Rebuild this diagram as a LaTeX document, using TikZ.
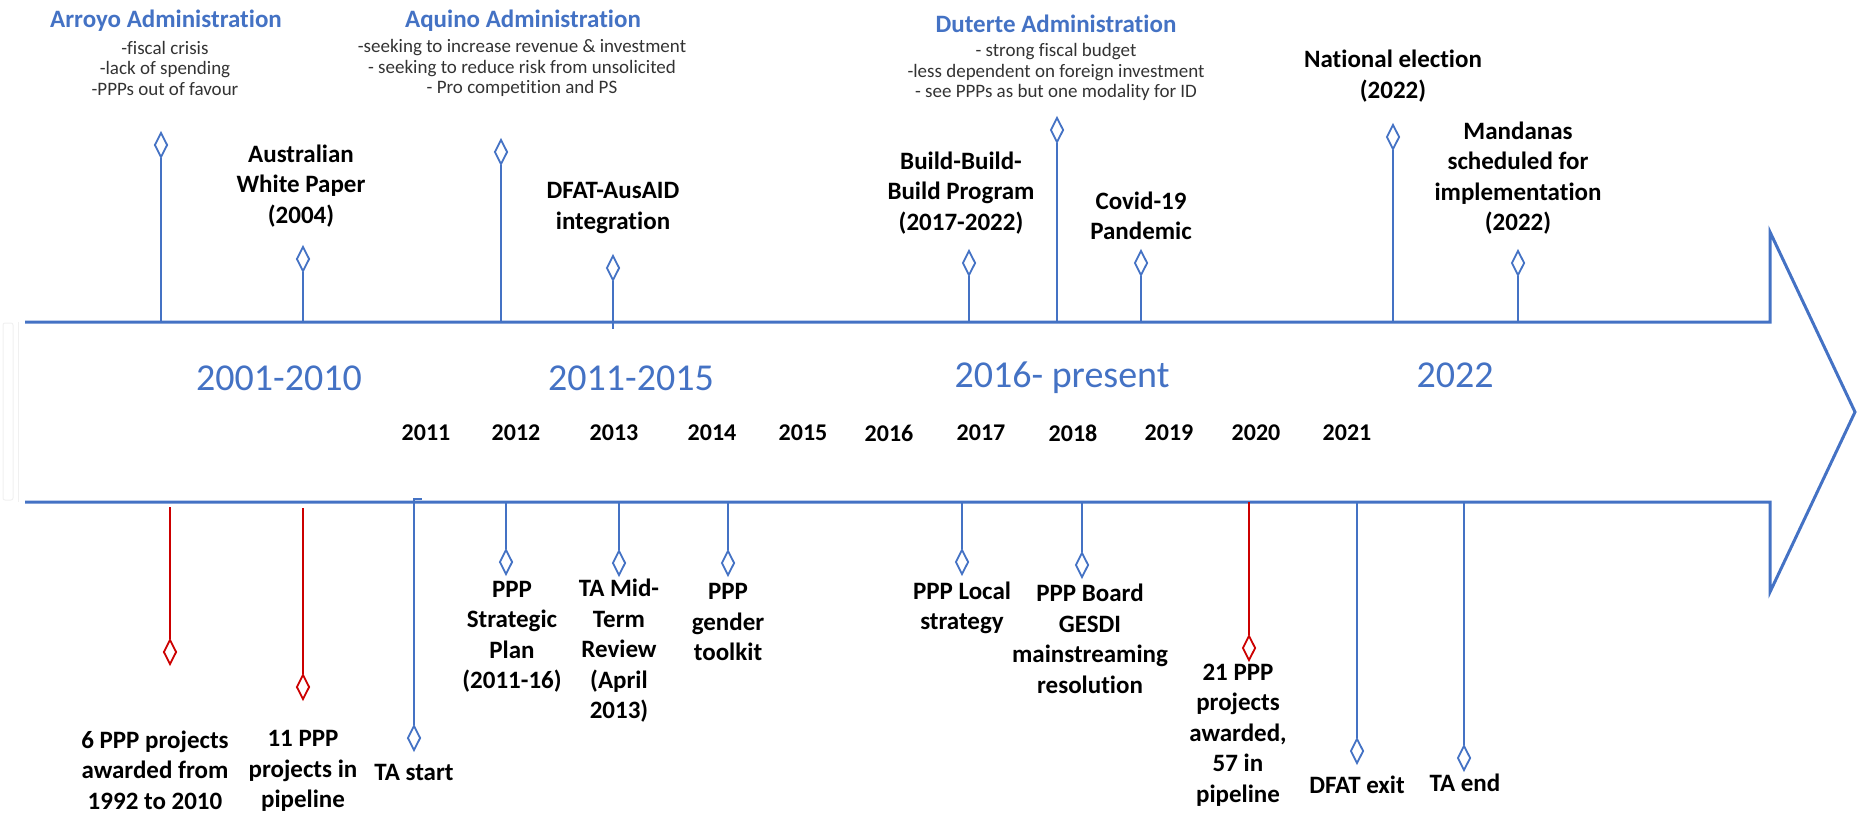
\documentclass[tikz,border=0pt]{standalone}
\usepackage{fontspec}
\setmainfont{Carlito}[Ligatures={NoCommon}]
\usetikzlibrary{shapes.geometric}
\definecolor{tlblue}{HTML}{4472C4}
\definecolor{tlred}{HTML}{CC0000}
\definecolor{subgray}{HTML}{333333}
\begin{document}
\begin{tikzpicture}[x=1pt,y=-1pt,
  admin/.style={text=tlblue, font=\fontsize{25}{30}\selectfont\bfseries, inner sep=0pt},
  subtxt/.style={text=subgray, font=\fontsize{19}{20.5}\selectfont, align=center, inner sep=0pt},
  ev/.style={font=\fontsize{25}{30.5}\selectfont\bfseries, align=center, inner sep=0pt},
  yr/.style={font=\fontsize{24}{28}\selectfont\bfseries, inner sep=0pt},
  era/.style={text=tlblue, font=\fontsize{38}{44}\selectfont, inner sep=0pt},
  stem/.style={draw=tlblue, line width=2.2pt},
  rstem/.style={draw=tlred, line width=1.8pt},
  dia/.style={diamond, draw=tlblue, line width=1.8pt, minimum width=13pt, minimum height=25pt, inner sep=0pt, fill=white},
  rdia/.style={dia, draw=tlred},
  band/.style={draw=tlblue, line width=3pt, line join=miter},
  faint/.style={draw=black!6, line width=1pt}
]
\useasboundingbox (0,0) rectangle (1857,813);

% faint left edge
\draw[faint] (18,322) -- (18,502);
\draw[faint, rounded corners=2pt] (3,323) rectangle (13,500);

% big arrow outline
\draw[band] (25,322) -- (1770,322) -- (1770,232) -- (1855,412) -- (1770,592) -- (1770,502) -- (25,502);

% ---------- top: administrations ----------
\node[admin] (tArroyo) at (166,21) {Arroyo Administration};
\node[subtxt] (sArroyo) at (165,68) {-fiscal crisis\\-lack of spending\\-PPPs out of favour};
\node[admin] (tAquino) at (523,21) {Aquino Administration};
\node[subtxt] (sAquino) at (522,68) {-seeking to increase revenue \& investment\\- seeking to reduce risk from unsolicited\\- Pro competition and PS};
\node[admin] (tDuterte) at (1056,24) {Duterte Administration};
\node[subtxt] (sDuterte) at (1056,72) {- strong fiscal budget\\-less dependent on foreign investment\\- see PPPs as but one modality for ID};

% ---------- top: events ----------
\node[dia] (dArroyo) at (161,145) {};
\coordinate (pArroyo) at (161,322);
\draw[stem] (dArroyo.south) -- (pArroyo);

\node[ev] (lAus) at (301,186) {Australian\\White Paper\\(2004)};
\node[dia] (dAus) at (303,259) {};
\coordinate (pAus) at (303,322);
\draw[stem] (dAus.south) -- (pAus);

\node[dia] (dAquino) at (501,152) {};
\coordinate (pAquino) at (501,322);
\draw[stem] (dAquino.south) -- (pAquino);

\node[ev] (lDFAT) at (613,208) {DFAT-AusAID\\integration};
\node[dia] (dDFAT) at (613,268) {};
\coordinate (pDFAT) at (613,329);
\draw[stem] (dDFAT.south) -- (pDFAT);

\node[ev] (lBBB) at (961,193) {Build-Build-\\Build Program\\(2017-2022)};
\node[dia] (dBBB) at (969,263) {};
\coordinate (pBBB) at (969,322);
\draw[stem] (dBBB.south) -- (pBBB);

\node[dia] (dDuterte) at (1057,130) {};
\coordinate (pDuterte) at (1057,322);
\draw[stem] (dDuterte.south) -- (pDuterte);

\node[ev] (lCovid) at (1141,216) {Covid-19\\Pandemic};
\node[dia] (dCovid) at (1141,263) {};
\coordinate (pCovid) at (1141,322);
\draw[stem] (dCovid.south) -- (pCovid);

\node[ev] (lElect) at (1393,76) {National election\\(2022)};
\node[dia] (dElect) at (1393,137) {};
\coordinate (pElect) at (1393,322);
\draw[stem] (dElect.south) -- (pElect);

\node[ev] (lMand) at (1518,178) {Mandanas\\scheduled for\\implementation\\(2022)};
\node[dia] (dMand) at (1518,263) {};
\coordinate (pMand) at (1518,322);
\draw[stem] (dMand.south) -- (pMand);

% ---------- middle band ----------
\node[era] (era1) at (279,378) {2001-2010};
\node[era] (era2) at (631,378) {2011-2015};
\node[era] (era3) at (1062,378) {2016- present};
\node[era] (era4) at (1455,375) {2022};

\node[yr] (y2011) at (426,433) {2011};
\node[yr] (y2012) at (516,433) {2012};
\node[yr] (y2013) at (614,433) {2013};
\node[yr] (y2014) at (712,433) {2014};
\node[yr] (y2015) at (803,433) {2015};
\node[yr] (y2016) at (889,433) {2016};
\node[yr] (y2017) at (981,433) {2017};
\node[yr] (y2018) at (1073,433) {2018};
\node[yr] (y2019) at (1169,433) {2019};
\node[yr] (y2020) at (1256,433) {2020};
\node[yr] (y2021) at (1347,433) {2021};

% ---------- bottom: events ----------
\coordinate (pR1) at (170,507);
\node[rdia] (dR1) at (170,652) {};
\draw[rstem] (pR1) -- (dR1.north);
\node[ev] (lR1) at (155,770) {6 PPP projects\\awarded from\\1992 to 2010};

\coordinate (pR2) at (303,508);
\node[rdia] (dR2) at (303,687) {};
\draw[rstem] (pR2) -- (dR2.north);
\node[ev] (lR2) at (303,771) {11 PPP\\projects in\\pipeline};

\coordinate (pTAs) at (414,499);
\coordinate (hTAs) at (422,499);
\node[dia] (dTAs) at (414,738) {};
\draw[stem] (dTAs.north) -- (pTAs) -- (hTAs);
\node[ev] (lTAs) at (414,772) {TA start};

\coordinate (pStrat) at (506,502);
\node[dia] (dStrat) at (506,562) {};
\draw[stem] (pStrat) -- (dStrat.north);
\node[ev] (lStrat) at (512,637) {PPP\\Strategic\\Plan\\(2011-16)};

\coordinate (pMid) at (619,502);
\node[dia] (dMid) at (619,563) {};
\draw[stem] (pMid) -- (dMid.north);
\node[ev] (lMid) at (619,651) {TA Mid-\\Term\\Review\\(April\\2013)};

\coordinate (pGen) at (728,502);
\node[dia] (dGen) at (728,563) {};
\draw[stem] (pGen) -- (dGen.north);
\node[ev] (lGen) at (728,622) {PPP\\gender\\toolkit};

\coordinate (pLoc) at (962,502);
\node[dia] (dLoc) at (962,562) {};
\draw[stem] (pLoc) -- (dLoc.north);
\node[ev] (lLoc) at (962,608) {PPP Local\\strategy};

\coordinate (pBrd) at (1082,502);
\node[dia] (dBrd) at (1082,565) {};
\draw[stem] (pBrd) -- (dBrd.north);
\node[ev] (lBrd) at (1090,639) {PPP Board\\GESDI\\mainstreaming\\resolution};

\coordinate (pR3) at (1249,502);
\node[rdia] (dR3) at (1249,648) {};
\draw[rstem] (pR3) -- (dR3.north);
\node[ev] (lR3) at (1238,735) {21 PPP\\projects\\awarded,\\57 in\\pipeline};

\coordinate (pDx) at (1357,502);
\node[dia] (dDx) at (1357,751) {};
\draw[stem] (pDx) -- (dDx.north);
\node[ev] (lDx) at (1357,785) {DFAT exit};

\coordinate (pTe) at (1464,502);
\node[dia] (dTe) at (1464,758) {};
\draw[stem] (pTe) -- (dTe.north);
\node[ev] (lTe) at (1465,783) {TA end};
\end{tikzpicture}
\end{document}
